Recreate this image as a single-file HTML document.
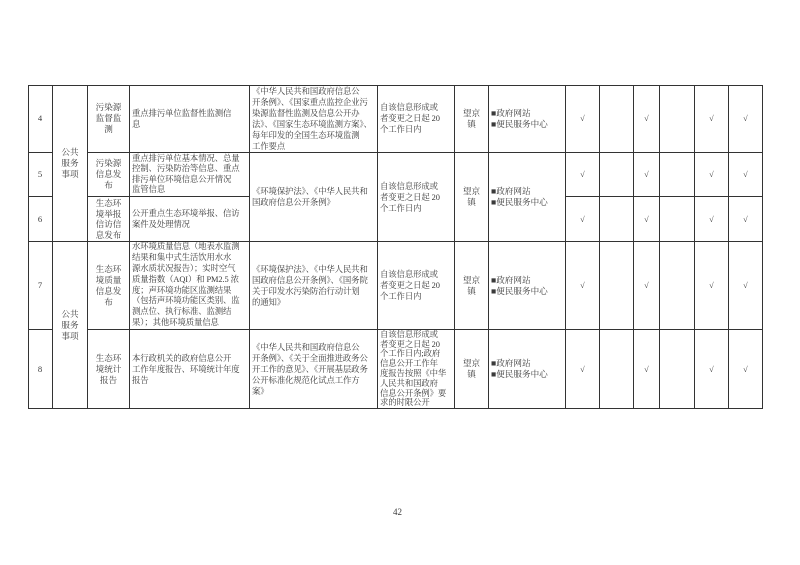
<!DOCTYPE html>
<html><head><meta charset="utf-8"><style>
body{margin:0;background:#fff;}
#p{position:relative;width:800px;height:565px;overflow:hidden;font-family:"Liberation Serif","Noto Serif CJK SC",serif;font-size:8.6px;line-height:11px;color:#3a3a3a;}
.c{position:absolute;box-sizing:border-box;border-right:1px solid #333;border-bottom:1px solid #333;display:flex;align-items:center;white-space:nowrap;overflow:hidden;padding:0 2px;}
.m{justify-content:center;text-align:center;}
.l{justify-content:flex-start;text-align:left;}
.s{font-size:8.4px;letter-spacing:-0.1px;}
.k{font-size:8px;}
#frame{position:absolute;left:28px;top:85px;width:735px;height:324px;border-left:1px solid #333;border-top:1px solid #333;box-sizing:border-box;}
</style></head><body><div id="p">
<div id="frame"></div>
<div class="c m" style="left:28px;top:85px;width:25px;height:68px">4</div>
<div class="c m" style="left:28px;top:153px;width:25px;height:44px">5</div>
<div class="c m" style="left:28px;top:197px;width:25px;height:45px">6</div>
<div class="c m" style="left:28px;top:242px;width:25px;height:88px">7</div>
<div class="c m" style="left:28px;top:330px;width:25px;height:79px">8</div>
<div class="c m" style="left:53px;top:85px;width:35px;height:157px">公共<br>服务<br>事项</div>
<div class="c m" style="left:53px;top:242px;width:35px;height:167px">公共<br>服务<br>事项</div>
<div class="c m" style="left:88px;top:85px;width:42px;height:68px">污染源<br>监督监<br>测</div>
<div class="c m" style="left:88px;top:153px;width:42px;height:44px">污染源<br>信息发<br>布</div>
<div class="c m" style="left:88px;top:197px;width:42px;height:45px;line-height:10.5px">生态环<br>境举报<br>信访信<br>息发布</div>
<div class="c m" style="left:88px;top:242px;width:42px;height:88px">生态环<br>境质量<br>信息发<br>布</div>
<div class="c m" style="left:88px;top:330px;width:42px;height:79px">生态环<br>境统计<br>报告</div>
<div class="c l s" style="left:130px;top:85px;width:120px;height:68px">重点排污单位监督性监测信<br>息</div>
<div class="c l s" style="left:130px;top:153px;width:120px;height:44px;line-height:10.5px">重点排污单位基本情况、总量<br>控制、污染防治等信息、重点<br>排污单位环境信息公开情况<br>监管信息</div>
<div class="c l s" style="left:130px;top:197px;width:120px;height:45px">公开重点生态环境举报、信访<br>案件及处理情况</div>
<div class="c l s" style="left:130px;top:242px;width:120px;height:88px;line-height:10.8px">水环境质量信息（地表水监测<br>结果和集中式生活饮用水水<br>源水质状况报告）；实时空气<br>质量指数（AQI）和 PM2.5 浓<br>度；声环境功能区监测结果<br>（包括声环境功能区类别、监<br>测点位、执行标准、监测结<br>果）；其他环境质量信息</div>
<div class="c l s" style="left:130px;top:330px;width:120px;height:79px">本行政机关的政府信息公开<br>工作年度报告、环境统计年度<br>报告</div>
<div class="c l s" style="left:250px;top:85px;width:128px;height:68px">《中华人民共和国政府信息公<br>开条例》、《国家重点监控企业污<br>染源监督性监测及信息公开办<br>法》、《国家生态环境监测方案》、<br>每年印发的全国生态环境监测<br>工作要点</div>
<div class="c l s" style="left:250px;top:153px;width:128px;height:89px">《环境保护法》、《中华人民共和<br>国政府信息公开条例》</div>
<div class="c l s" style="left:250px;top:242px;width:128px;height:88px">《环境保护法》、《中华人民共和<br>国政府信息公开条例》、《国务院<br>关于印发水污染防治行动计划<br>的通知》</div>
<div class="c l s" style="left:250px;top:330px;width:128px;height:79px">《中华人民共和国政府信息公<br>开条例》、《关于全面推进政务公<br>开工作的意见》、《开展基层政务<br>公开标准化规范化试点工作方<br>案》</div>
<div class="c l s" style="left:378px;top:85px;width:77px;height:68px">自该信息形成或<br>者变更之日起 20<br>个工作日内</div>
<div class="c l s" style="left:378px;top:153px;width:77px;height:89px">自该信息形成或<br>者变更之日起 20<br>个工作日内</div>
<div class="c l s" style="left:378px;top:242px;width:77px;height:88px">自该信息形成或<br>者变更之日起 20<br>个工作日内</div>
<div class="c l s" style="left:378px;top:330px;width:77px;height:79px;line-height:9.8px">自该信息形成或<br>者变更之日起 20<br>个工作日内;政府<br>信息公开工作年<br>度报告按照《中华<br>人民共和国政府<br>信息公开条例》要<br>求的时限公开</div>
<div class="c m" style="left:455px;top:85px;width:34px;height:68px">望京<br>镇</div>
<div class="c m" style="left:455px;top:153px;width:34px;height:89px">望京<br>镇</div>
<div class="c m" style="left:455px;top:242px;width:34px;height:88px">望京<br>镇</div>
<div class="c m" style="left:455px;top:330px;width:34px;height:79px">望京<br>镇</div>
<div class="c l" style="left:489px;top:85px;width:77px;height:68px">■政府网站<br>■便民服务中心</div>
<div class="c l" style="left:489px;top:153px;width:77px;height:89px">■政府网站<br>■便民服务中心</div>
<div class="c l" style="left:489px;top:242px;width:77px;height:88px">■政府网站<br>■便民服务中心</div>
<div class="c l" style="left:489px;top:330px;width:77px;height:79px">■政府网站<br>■便民服务中心</div>
<div id="chk"></div>
<script>
var xs=[566,600,634,660,695,729,763],ys=[85,153,197,242,330,409],on=[1,0,1,0,1,1],h='';
for(var r=0;r<5;r++)for(var c=0;c<6;c++){h+='<div class="c m k" style="left:'+xs[c]+'px;top:'+ys[r]+'px;width:'+(xs[c+1]-xs[c])+'px;height:'+(ys[r+1]-ys[r])+'px">'+(on[c]?'√':'')+'</div>';}
document.getElementById('chk').outerHTML=h;
</script>
<div style="position:absolute;left:393px;top:507px;font-size:9px">42</div>
</div></body></html>
